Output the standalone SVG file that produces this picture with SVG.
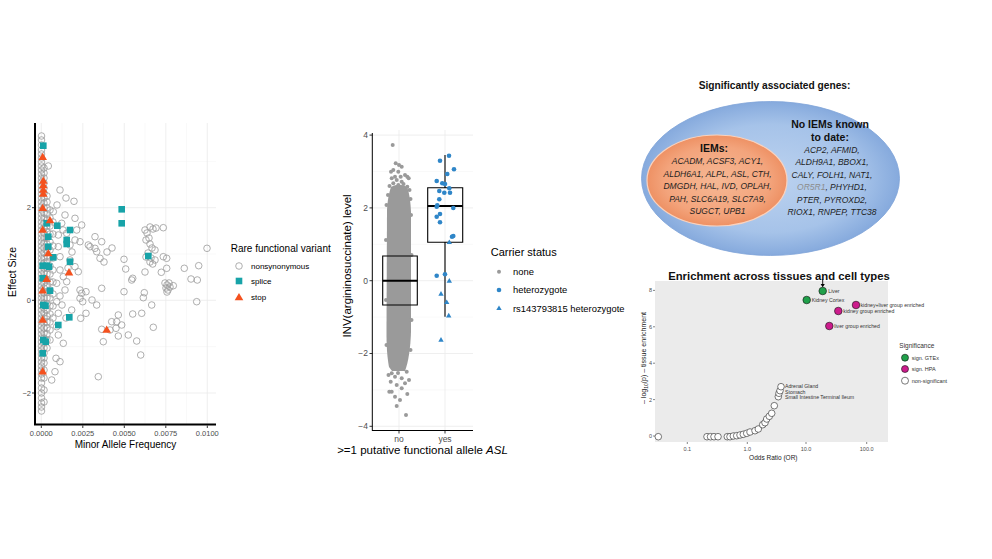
<svg xmlns="http://www.w3.org/2000/svg" xmlns:xlink="http://www.w3.org/1999/xlink" width="992" height="559" viewBox="0 0 992 559">
<style>
text{font-family:"Liberation Sans",Arial,sans-serif;}
.grid{stroke:#ebebeb;stroke-width:0.8;fill:none}
.gridm{stroke:#f2f2f2;stroke-width:0.5;fill:none}
.axis{stroke:#000;fill:none}
.tick{font-size:7.5px;fill:#4d4d4d}
.tickm{font-size:8.5px;fill:#4d4d4d}
.nons use{fill:none;stroke:#9a9a9a;stroke-width:0.8}
.spl use{fill:#17a3a8}
.stp use{fill:#f4511e}
.gdot{fill:#9a9a9a}
.bdot use{fill:#2f86c8}
.vi{font-size:8.5px;font-style:italic;fill:#1e1e1e;text-anchor:middle}
.vb{font-size:10.5px;font-weight:bold;fill:#111;text-anchor:middle}
.elab{font-size:5.2px;fill:#333}
.etick{font-size:5.5px;fill:#4d4d4d}
.ns{fill:#fff;stroke:#222;stroke-width:0.6}
</style>
<defs>
<circle id="o" r="3.3"/>
<rect id="sq" x="-3.3" y="-3.3" width="6.6" height="6.6"/>
<path id="tri" d="M0,-4.6 L4.3,2.8 L-4.3,2.8Z"/>
<circle id="bd" r="2.3"/>
<path id="btri" d="M0,-2.9 L2.7,1.8 L-2.7,1.8Z"/>
<radialGradient id="gBlue" cx="0.5" cy="0.5" r="0.5">
<stop offset="0" stop-color="#bcd2ef"/><stop offset="0.7" stop-color="#a6c3e9"/><stop offset="1" stop-color="#86aadd"/>
</radialGradient>
<radialGradient id="gOr" cx="0.5" cy="0.5" r="0.5">
<stop offset="0" stop-color="#f6b894"/><stop offset="0.75" stop-color="#f3a47c"/><stop offset="1" stop-color="#ee9164"/>
</radialGradient>
</defs>
<rect width="992" height="559" fill="#fff"/>

<g id="panel-variants">
<g class="gridm">
<path d="M62,123V424M103.5,123V424M145,123V424M186.5,123V424M35,161.4H216M35,254H216M35,346.6H216"/>
</g>
<g class="grid">
<path d="M41.3,123V424M82.8,123V424M124.3,123V424M165.8,123V424M207.3,123V424M35,207.7H216M35,300.3H216M35,393H216"/>
</g>
<g class="nons">
<use href="#o" x="41.5" y="136"/><use href="#o" x="41.5" y="140"/><use href="#o" x="41.5" y="145"/><use href="#o" x="41.5" y="150"/><use href="#o" x="41.5" y="154"/><use href="#o" x="41.5" y="158"/><use href="#o" x="41.5" y="162"/><use href="#o" x="41.5" y="166"/><use href="#o" x="41.5" y="170"/><use href="#o" x="41.5" y="174"/><use href="#o" x="41.5" y="178"/><use href="#o" x="41.5" y="182"/><use href="#o" x="41.5" y="186"/><use href="#o" x="41.5" y="190"/><use href="#o" x="41.5" y="194"/><use href="#o" x="41.5" y="198"/><use href="#o" x="41.5" y="202"/><use href="#o" x="41.5" y="206"/><use href="#o" x="41.5" y="210"/><use href="#o" x="41.5" y="214"/><use href="#o" x="41.5" y="218"/><use href="#o" x="41.5" y="222"/><use href="#o" x="41.5" y="226"/><use href="#o" x="41.5" y="230"/><use href="#o" x="41.5" y="234"/><use href="#o" x="41.5" y="238"/><use href="#o" x="41.5" y="242"/><use href="#o" x="41.5" y="246"/><use href="#o" x="41.5" y="250"/><use href="#o" x="41.5" y="254"/><use href="#o" x="41.5" y="258"/><use href="#o" x="41.5" y="262"/><use href="#o" x="41.5" y="266"/><use href="#o" x="41.5" y="270"/><use href="#o" x="41.5" y="274"/><use href="#o" x="41.5" y="278"/><use href="#o" x="41.5" y="282"/><use href="#o" x="41.5" y="286"/><use href="#o" x="41.5" y="290"/><use href="#o" x="41.5" y="294"/><use href="#o" x="41.5" y="298"/><use href="#o" x="41.5" y="302"/><use href="#o" x="41.5" y="306"/><use href="#o" x="41.5" y="310"/><use href="#o" x="41.5" y="314"/><use href="#o" x="41.5" y="318"/><use href="#o" x="41.5" y="322"/><use href="#o" x="41.5" y="326"/><use href="#o" x="41.5" y="330"/><use href="#o" x="41.5" y="334"/><use href="#o" x="41.5" y="338"/><use href="#o" x="41.5" y="342"/><use href="#o" x="41.5" y="346"/><use href="#o" x="41.5" y="350"/><use href="#o" x="41.5" y="354"/><use href="#o" x="41.5" y="358"/><use href="#o" x="41.5" y="362"/><use href="#o" x="41.5" y="366"/><use href="#o" x="41.5" y="370"/><use href="#o" x="41.5" y="374"/><use href="#o" x="41.5" y="378"/><use href="#o" x="41.5" y="383"/><use href="#o" x="41.5" y="388"/><use href="#o" x="41.5" y="393"/><use href="#o" x="41.5" y="398"/><use href="#o" x="41.5" y="403"/><use href="#o" x="41.5" y="407"/><use href="#o" x="41.5" y="411"/>
<use href="#o" x="44" y="168"/><use href="#o" x="44" y="173"/><use href="#o" x="44" y="178"/><use href="#o" x="44" y="183"/><use href="#o" x="44" y="188"/><use href="#o" x="44" y="193"/><use href="#o" x="44" y="198"/><use href="#o" x="44" y="203"/><use href="#o" x="44" y="208"/><use href="#o" x="44" y="213"/><use href="#o" x="44" y="218"/><use href="#o" x="44" y="223"/><use href="#o" x="44" y="228"/><use href="#o" x="44" y="233"/><use href="#o" x="44" y="238"/><use href="#o" x="44" y="243"/><use href="#o" x="44" y="248"/><use href="#o" x="44" y="253"/><use href="#o" x="44" y="258"/><use href="#o" x="44" y="263"/><use href="#o" x="44" y="268"/><use href="#o" x="44" y="273"/><use href="#o" x="44" y="278"/><use href="#o" x="44" y="283"/><use href="#o" x="44" y="288"/><use href="#o" x="44" y="293"/><use href="#o" x="44" y="298"/><use href="#o" x="44" y="303"/><use href="#o" x="44" y="308"/><use href="#o" x="44" y="313"/><use href="#o" x="44" y="318"/><use href="#o" x="44" y="323"/><use href="#o" x="44" y="328"/><use href="#o" x="44" y="333"/><use href="#o" x="44" y="338"/><use href="#o" x="44" y="343"/><use href="#o" x="44" y="348"/><use href="#o" x="44" y="353"/><use href="#o" x="44" y="358"/><use href="#o" x="44" y="363"/><use href="#o" x="44" y="370"/><use href="#o" x="44" y="378"/><use href="#o" x="44" y="390"/><use href="#o" x="44" y="402"/>
<use href="#o" x="47" y="196"/><use href="#o" x="47" y="202"/><use href="#o" x="47" y="208"/><use href="#o" x="47" y="214"/><use href="#o" x="47" y="220"/><use href="#o" x="47" y="226"/><use href="#o" x="47" y="232"/><use href="#o" x="47" y="238"/><use href="#o" x="47" y="244"/><use href="#o" x="47" y="250"/><use href="#o" x="47" y="256"/><use href="#o" x="47" y="262"/><use href="#o" x="47" y="268"/><use href="#o" x="47" y="274"/><use href="#o" x="47" y="280"/><use href="#o" x="47" y="286"/><use href="#o" x="47" y="292"/><use href="#o" x="47" y="298"/><use href="#o" x="47" y="304"/><use href="#o" x="47" y="310"/><use href="#o" x="47" y="316"/><use href="#o" x="47" y="322"/><use href="#o" x="47" y="328"/><use href="#o" x="47" y="334"/><use href="#o" x="47" y="340"/><use href="#o" x="47" y="348"/>
<use href="#o" x="50" y="210"/><use href="#o" x="50" y="218"/><use href="#o" x="50" y="226"/><use href="#o" x="50" y="234"/><use href="#o" x="50" y="242"/><use href="#o" x="50" y="250"/><use href="#o" x="50" y="258"/><use href="#o" x="50" y="266"/><use href="#o" x="50" y="274"/><use href="#o" x="50" y="282"/><use href="#o" x="50" y="290"/><use href="#o" x="50" y="298"/><use href="#o" x="50" y="306"/><use href="#o" x="50" y="314"/><use href="#o" x="50" y="322"/><use href="#o" x="50" y="330"/><use href="#o" x="50" y="340"/>
<use href="#o" x="53" y="222"/><use href="#o" x="53" y="234"/><use href="#o" x="53" y="246"/><use href="#o" x="53" y="258"/><use href="#o" x="53" y="270"/><use href="#o" x="53" y="282"/><use href="#o" x="53" y="294"/><use href="#o" x="53" y="306"/><use href="#o" x="53" y="318"/>
<use href="#o" x="48.3" y="166"/><use href="#o" x="60" y="190"/><use href="#o" x="74" y="201.3"/><use href="#o" x="66" y="198"/><use href="#o" x="57" y="205"/><use href="#o" x="53.3" y="211.7"/><use href="#o" x="65" y="215"/><use href="#o" x="75" y="218.3"/><use href="#o" x="81.7" y="225"/><use href="#o" x="61.7" y="223.3"/><use href="#o" x="58.3" y="235"/><use href="#o" x="66.7" y="233.3"/><use href="#o" x="76.7" y="230"/><use href="#o" x="63" y="230"/><use href="#o" x="75" y="240"/><use href="#o" x="58.3" y="246.7"/><use href="#o" x="70" y="245"/><use href="#o" x="80" y="241.7"/><use href="#o" x="72" y="252"/><use href="#o" x="60" y="256.7"/><use href="#o" x="70" y="260"/><use href="#o" x="75" y="266.7"/><use href="#o" x="68" y="268"/><use href="#o" x="60" y="270"/><use href="#o" x="78.3" y="271.7"/><use href="#o" x="63.3" y="276.7"/><use href="#o" x="56.7" y="283.3"/><use href="#o" x="66.7" y="281.7"/><use href="#o" x="65" y="290"/><use href="#o" x="80" y="290"/><use href="#o" x="81.7" y="293.3"/><use href="#o" x="60" y="296"/><use href="#o" x="80" y="298.3"/><use href="#o" x="56.7" y="301.7"/><use href="#o" x="62" y="305"/><use href="#o" x="71.7" y="310"/><use href="#o" x="58.3" y="313.3"/><use href="#o" x="66" y="318"/><use href="#o" x="56.7" y="326.7"/><use href="#o" x="58.3" y="335"/><use href="#o" x="63.3" y="343.3"/><use href="#o" x="56" y="358.3"/><use href="#o" x="60" y="361.7"/><use href="#o" x="55" y="371.7"/><use href="#o" x="51.7" y="380"/><use href="#o" x="80.7" y="318.3"/><use href="#o" x="86" y="313.3"/><use href="#o" x="82.7" y="301.7"/>
<use href="#o" x="88.3" y="245"/><use href="#o" x="90" y="246.7"/><use href="#o" x="95" y="236.7"/><use href="#o" x="95" y="248.3"/><use href="#o" x="96.7" y="251.7"/><use href="#o" x="101.7" y="241.7"/><use href="#o" x="100" y="258.3"/><use href="#o" x="104" y="262"/><use href="#o" x="107" y="252"/><use href="#o" x="112" y="248"/><use href="#o" x="86" y="291.7"/><use href="#o" x="92" y="300"/><use href="#o" x="101.7" y="288.3"/><use href="#o" x="96.7" y="305"/><use href="#o" x="111.7" y="321.7"/><use href="#o" x="110" y="330"/><use href="#o" x="116" y="328.3"/><use href="#o" x="118.3" y="315"/><use href="#o" x="116.7" y="321.7"/><use href="#o" x="121.7" y="325"/><use href="#o" x="101.7" y="329.3"/><use href="#o" x="103.3" y="341.7"/><use href="#o" x="118.3" y="336"/><use href="#o" x="98.3" y="376.7"/>
<use href="#o" x="124" y="259.3"/><use href="#o" x="125.7" y="269"/><use href="#o" x="124" y="291.7"/><use href="#o" x="128.3" y="335"/><use href="#o" x="132.7" y="314"/><use href="#o" x="136.7" y="341"/><use href="#o" x="140.7" y="355"/><use href="#o" x="141.7" y="313.3"/><use href="#o" x="143.3" y="297.7"/><use href="#o" x="144.3" y="292.7"/><use href="#o" x="153.3" y="327.3"/><use href="#o" x="151.7" y="305"/><use href="#o" x="131.7" y="280"/><use href="#o" x="132.7" y="278.3"/>
<use href="#o" x="145" y="230"/><use href="#o" x="147" y="233"/><use href="#o" x="150" y="227"/><use href="#o" x="153" y="229"/><use href="#o" x="156" y="228"/><use href="#o" x="146" y="240"/><use href="#o" x="150" y="244"/><use href="#o" x="152" y="248"/><use href="#o" x="148" y="253"/><use href="#o" x="146" y="257"/><use href="#o" x="151" y="258"/><use href="#o" x="155" y="250"/><use href="#o" x="149" y="238"/><use href="#o" x="163.3" y="227.7"/><use href="#o" x="166.7" y="258.3"/><use href="#o" x="166.7" y="268.3"/>
<use href="#o" x="150" y="262"/><use href="#o" x="152.7" y="264"/><use href="#o" x="155" y="260"/><use href="#o" x="145" y="272"/><use href="#o" x="161.3" y="272.3"/><use href="#o" x="163.3" y="256.7"/>
<use href="#o" x="165" y="283"/><use href="#o" x="167" y="285"/><use href="#o" x="169" y="283"/><use href="#o" x="166" y="288"/><use href="#o" x="168" y="290"/><use href="#o" x="170" y="287"/><use href="#o" x="167" y="292"/><use href="#o" x="173.3" y="285.7"/>
<use href="#o" x="184.3" y="268.3"/><use href="#o" x="191" y="279"/><use href="#o" x="197.3" y="280"/><use href="#o" x="198.7" y="265.7"/><use href="#o" x="207" y="248.3"/><use href="#o" x="196.7" y="301.7"/>
</g>
<g class="spl">
<use href="#sq" x="43.3" y="145.7"/><use href="#sq" x="46.7" y="223.3"/><use href="#sq" x="57.3" y="225.7"/><use href="#sq" x="70" y="230"/><use href="#sq" x="48.3" y="236.7"/><use href="#sq" x="66.7" y="240"/><use href="#sq" x="66.7" y="244"/><use href="#sq" x="48.3" y="246.7"/><use href="#sq" x="70" y="261.7"/><use href="#sq" x="53.3" y="257.3"/><use href="#sq" x="42.7" y="265.7"/><use href="#sq" x="46.7" y="265.7"/><use href="#sq" x="49" y="266.7"/><use href="#sq" x="42.7" y="278.3"/><use href="#sq" x="50" y="290.7"/><use href="#sq" x="43.3" y="305"/><use href="#sq" x="45.5" y="305.7"/><use href="#sq" x="58.3" y="325"/><use href="#sq" x="69.3" y="317.3"/><use href="#sq" x="43.3" y="340"/><use href="#sq" x="45.7" y="341.7"/><use href="#sq" x="42.7" y="353.3"/><use href="#sq" x="121.7" y="209.3"/><use href="#sq" x="121.7" y="223.3"/><use href="#sq" x="148.3" y="256"/>
</g>
<g class="stp">
<use href="#tri" x="42.7" y="157.3"/><use href="#tri" x="43.3" y="181"/><use href="#tri" x="43.3" y="185.5"/><use href="#tri" x="43.3" y="190"/><use href="#tri" x="43.3" y="194"/><use href="#tri" x="42.7" y="208.3"/><use href="#tri" x="50" y="220.5"/><use href="#tri" x="42.7" y="230"/><use href="#tri" x="48.3" y="253.5"/><use href="#tri" x="46.7" y="279.3"/><use href="#tri" x="42.7" y="290.7"/><use href="#tri" x="42.7" y="320"/><use href="#tri" x="42.7" y="371.7"/><use href="#tri" x="69" y="272.7"/><use href="#tri" x="106.7" y="330"/>
</g>
<path class="axis" stroke-width="2" d="M35,123V425.5M34,424.5H216"/>
<path class="axis" stroke-width="0.8" stroke="#333" d="M32,207.7H35M32,300.3H35M32,393H35M41.3,425.5V428M82.8,425.5V428M124.3,425.5V428M165.8,425.5V428M207.3,425.5V428"/>
<g class="tick" text-anchor="end">
<text x="31" y="210.4">2</text><text x="31" y="303">0</text><text x="31" y="395.7">−2</text>
</g>
<g class="tick" text-anchor="middle">
<text x="41.3" y="436">0.0000</text><text x="82.8" y="436">0.0025</text><text x="124.3" y="436">0.0050</text><text x="165.8" y="436">0.0075</text><text x="207.3" y="436">0.0100</text>
</g>
<text x="125.5" y="447.5" font-size="10" text-anchor="middle">Minor Allele Frequency</text>
<text transform="translate(15.5,272) rotate(-90)" font-size="10.5" text-anchor="middle">Effect Size</text>
<g id="legend-variants">
<text x="230.7" y="251.5" font-size="10">Rare functional variant</text>
<g class="nons"><use href="#o" x="239" y="266"/></g>
<g class="spl"><use href="#sq" x="239" y="281"/></g>
<g class="stp"><use href="#tri" x="239" y="297.5"/></g>
<text x="251" y="268.8" font-size="8">nonsynonymous</text>
<text x="251" y="283.8" font-size="8">splice</text>
<text x="251" y="299.8" font-size="8">stop</text>
</g>
</g>

<g id="panel-asl">
<g class="gridm"><path d="M372,389.9H473M372,317.1H473M372,244.3H473M372,171.5H473"/></g>
<g class="grid"><path d="M399,130V430M445,130V430M372,426.3H473M372,353.5H473M372,280.7H473M372,207.9H473M372,135.1H473"/></g>
<path class="gdot" d="M391,187 C389,193 387.5,200 387,210 L386.5,332 C386.5,346 387,356 389,367 L392,371 L405,371 C408.5,362 410.5,347 411,332 L411,212 C410.5,200 409,192 407,187 C402,184 396,184 391,187Z"/>
<g class="gdot">
<circle cx="392.7" cy="145" r="2"/><circle cx="395.7" cy="163.3" r="2"/><circle cx="399" cy="165" r="2"/><circle cx="401.7" cy="166.7" r="2"/><circle cx="393.3" cy="170" r="2"/><circle cx="391" cy="171.7" r="2"/><circle cx="405" cy="175" r="2"/><circle cx="407.3" cy="176.7" r="2"/><circle cx="408.7" cy="178.3" r="2"/><circle cx="398.3" cy="171.7" r="2"/><circle cx="400.7" cy="176.7" r="2"/><circle cx="395" cy="176.7" r="2"/><circle cx="391.7" cy="178.3" r="2"/><circle cx="396.7" cy="180" r="2"/><circle cx="401.7" cy="181.7" r="2"/><circle cx="393.3" cy="183.3" r="2"/><circle cx="398.3" cy="185" r="2"/><circle cx="407.3" cy="186.7" r="2"/><circle cx="389.5" cy="186" r="2"/><circle cx="403.5" cy="184" r="2"/><circle cx="409.5" cy="190" r="2"/><circle cx="388" cy="195" r="2"/><circle cx="410.5" cy="199" r="2"/><circle cx="386.5" cy="205" r="2"/><circle cx="411" cy="215" r="2"/><circle cx="386" cy="240" r="2"/><circle cx="411.5" cy="255" r="2"/><circle cx="386" cy="300" r="2"/><circle cx="411.5" cy="320" r="2"/><circle cx="386.5" cy="345" r="2"/><circle cx="410.5" cy="350" r="2"/>
<circle cx="391.7" cy="373.3" r="2"/><circle cx="406.7" cy="371.7" r="2"/><circle cx="395" cy="376.7" r="2"/><circle cx="401.7" cy="378.3" r="2"/><circle cx="390.7" cy="381.7" r="2"/><circle cx="405" cy="383.3" r="2"/><circle cx="396.7" cy="385" r="2"/><circle cx="401.7" cy="388.3" r="2"/><circle cx="391.7" cy="391.7" r="2"/><circle cx="407.3" cy="394" r="2"/><circle cx="395" cy="396.7" r="2"/><circle cx="400" cy="400" r="2"/><circle cx="396.7" cy="406" r="2"/><circle cx="389.3" cy="391.7" r="2"/><circle cx="406" cy="415" r="2"/><circle cx="409" cy="380" r="2"/><circle cx="388.5" cy="375" r="2"/><circle cx="398" cy="373" r="2"/>
</g>
<path fill="none" stroke="#000" stroke-width="1.1" d="M382.7,256H417.3V305H382.7Z"/>
<path stroke="#000" stroke-width="2" d="M382.7,280.7H417.3"/>
<path fill="none" stroke="#000" stroke-width="1.1" d="M445,155V187.7M445,242.3V316.7M427.7,187.7H462.7V242.3H427.7Z"/>
<path stroke="#000" stroke-width="2" d="M427.7,206H462.7"/>
<g class="bdot">
<use href="#bd" x="449" y="155.7"/><use href="#bd" x="440" y="160.7"/><use href="#bd" x="454" y="169.3"/><use href="#bd" x="447.3" y="174"/><use href="#bd" x="436.7" y="181"/><use href="#bd" x="442.3" y="183.3"/><use href="#bd" x="445" y="184"/><use href="#bd" x="449.3" y="188.3"/><use href="#bd" x="439.3" y="191"/><use href="#bd" x="444.3" y="192.7"/><use href="#bd" x="450" y="192.7"/><use href="#bd" x="439.3" y="199.3"/><use href="#bd" x="437.3" y="205.3"/><use href="#bd" x="436.7" y="206.7"/><use href="#bd" x="453.3" y="208"/><use href="#bd" x="436.7" y="216.7"/><use href="#bd" x="440" y="214"/><use href="#bd" x="440" y="222.3"/><use href="#bd" x="453.3" y="236"/><use href="#bd" x="452" y="236.7"/><use href="#bd" x="436.7" y="275.7"/><use href="#bd" x="445" y="274.3"/>
<use href="#btri" x="449.3" y="242.3"/><use href="#btri" x="449.3" y="281"/><use href="#btri" x="441" y="294"/><use href="#btri" x="446.7" y="302.3"/><use href="#btri" x="448.7" y="315.7"/><use href="#btri" x="441" y="340"/>
</g>
<path class="axis" stroke-width="1" d="M372.3,133V430.8M372,430.5H473"/>
<path class="axis" stroke-width="0.8" stroke="#333" d="M369.5,135.1H372.3M369.5,207.9H372.3M369.5,280.7H372.3M369.5,353.5H372.3M369.5,426.3H372.3M399,430.5V433.5M445,430.5V433.5"/>
<g class="tickm" text-anchor="end">
<text x="368" y="138">4</text><text x="368" y="210.8">2</text><text x="368" y="283.6">0</text><text x="368" y="356.4">−2</text><text x="368" y="429.2">−4</text>
</g>
<g class="tickm" text-anchor="middle">
<text x="399" y="442">no</text><text x="445" y="442">yes</text>
</g>
<text x="422.5" y="453.5" font-size="11.5" text-anchor="middle">&gt;=1 putative functional allele <tspan font-style="italic">ASL</tspan></text>
<text transform="translate(350.5,266) rotate(-90)" font-size="11.5" text-anchor="middle">INV(argininosuccinate) level</text>
<g id="legend-carrier">
<text x="490.7" y="255.5" font-size="11">Carrier status</text>
<circle cx="499" cy="271.7" r="2" fill="#9a9a9a"/>
<g class="bdot"><use href="#bd" x="499" y="290"/><use href="#btri" x="499" y="308.3"/></g>
<text x="513" y="275" font-size="9.4">none</text>
<text x="513" y="293.3" font-size="9.4">heterozygote</text>
<text x="513" y="311.6" font-size="9.4">rs143793815 heterozygote</text>
</g>
</g>

<g id="panel-genes">
<text x="774.5" y="89" font-size="10.2" font-weight="bold" text-anchor="middle" fill="#111">Significantly associated genes:</text>
<g id="node-all">
<ellipse cx="770.5" cy="178.5" rx="129" ry="77" fill="url(#gBlue)" stroke="#7fa3d8" stroke-width="0.8"/>
<text class="vb" x="830" y="127.5">No IEMs known</text>
<text class="vb" x="830" y="141">to date:</text>
<text class="vi" x="832" y="153.2">ACP2, AFMID,</text>
<text class="vi" x="832" y="165.2">ALDH9A1, BBOX1,</text>
<text class="vi" x="832" y="177.5">CALY, FOLH1, NAT1,</text>
<text class="vi" x="832" y="190"><tspan fill="#8c8c8c">OR5R1</tspan>, PHYHD1,</text>
<text class="vi" x="832" y="202.5">PTER, PYROXD2,</text>
<text class="vi" x="832" y="215">RIOX1, RNPEP, TTC38</text>
</g>
<g id="node-iems">
<ellipse cx="717" cy="180.5" rx="70" ry="45.5" fill="url(#gOr)" stroke="#fad2bd" stroke-width="1.2"/>
<text class="vb" x="714" y="152.3">IEMs:</text>
<text class="vi" x="717.5" y="164">ACADM, ACSF3, ACY1,</text>
<text class="vi" x="717.5" y="176.5">ALDH6A1, ALPL, ASL, CTH,</text>
<text class="vi" x="717.5" y="189">DMGDH, HAL, IVD, OPLAH,</text>
<text class="vi" x="717.5" y="201.5">PAH, SLC6A19, SLC7A9,</text>
<text class="vi" x="717.5" y="213.5">SUGCT, UPB1</text>
</g>
</g>

<g id="panel-enrichment">
<rect x="655" y="281" width="233" height="161" fill="#ebebeb"/>
<text x="779" y="279.5" font-size="11.3" font-weight="bold" text-anchor="middle" fill="#111">Enrichment across tissues and cell types</text>
<path stroke="#333" stroke-width="0.6" d="M653,290.4H655M653,326.8H655M653,363.2H655M653,399.6H655M653,436H655M687.3,442V444M747.3,442V444M806,442V444M866.7,442V444"/>
<g class="etick" text-anchor="end">
<text x="652" y="292.4">8</text><text x="652" y="328.8">6</text><text x="652" y="365.2">4</text><text x="652" y="401.6">2</text><text x="652" y="438">0</text>
</g>
<g class="etick" text-anchor="middle">
<text x="687.3" y="451">0.1</text><text x="747.3" y="451">1.0</text><text x="806" y="451">10.0</text><text x="866.7" y="451">100.0</text>
</g>
<text x="773.3" y="459.5" font-size="6.5" text-anchor="middle" fill="#222">Odds Ratio (OR)</text>
<text transform="translate(646,358) rotate(-90)" font-size="7" text-anchor="middle" fill="#222">– log<tspan font-size="5" dy="1.5">10</tspan><tspan dy="-1.5">(p) – tissue enrichment</tspan></text>
<g class="ns">
<circle cx="658.3" cy="436.7" r="3.3"/>
<circle cx="707" cy="436.7" r="3.3"/><circle cx="710.5" cy="436.7" r="3.3"/><circle cx="714" cy="436.7" r="3.3"/><circle cx="718" cy="436.7" r="3.3"/>
<circle cx="727.3" cy="436.7" r="3.3"/><circle cx="730" cy="436.7" r="3.3"/><circle cx="733.3" cy="436" r="3.3"/><circle cx="736.7" cy="435.7" r="3.3"/><circle cx="740" cy="435" r="3.3"/><circle cx="743.3" cy="434.3" r="3.3"/><circle cx="746.7" cy="433.3" r="3.3"/><circle cx="750" cy="432" r="3.3"/><circle cx="755" cy="430.7" r="3.3"/><circle cx="758.3" cy="429" r="3.3"/><circle cx="762.7" cy="424.7" r="3.3"/><circle cx="765" cy="422.7" r="3.3"/><circle cx="766.7" cy="419" r="3.3"/><circle cx="769.3" cy="416.3" r="3.3"/><circle cx="771.7" cy="413.3" r="3.3"/><circle cx="774.3" cy="405.7" r="3.3"/>
<circle cx="778.3" cy="396.7" r="3.3"/><circle cx="779" cy="393.3" r="3.3"/><circle cx="780" cy="390.7" r="3.3"/><circle cx="781" cy="386.7" r="3.3"/>
</g>
<g stroke="#111" stroke-width="0.6">
<circle cx="806.7" cy="300" r="3.8" fill="#20a04a"/><circle cx="822.7" cy="291" r="3.8" fill="#20a04a"/>
<circle cx="856" cy="305" r="3.8" fill="#cc1c8c"/><circle cx="838.3" cy="311" r="3.8" fill="#cc1c8c"/><circle cx="829.3" cy="326" r="3.8" fill="#cc1c8c"/>
</g>
<path d="M822.7,279V285" stroke="#000" stroke-width="0.9"/>
<path d="M820.6,284L824.8,284L822.7,287.2Z" fill="#000"/>
<g class="elab">
<text x="828.3" y="293">Liver</text>
<text x="811.7" y="302">Kidney Cortex</text>
<text x="860.5" y="307">kidney+liver group enriched</text>
<text x="843.3" y="313">kidney group enriched</text>
<text x="834.3" y="328">liver group enriched</text>
<text x="785" y="387.5">Adrenal Gland</text>
<text x="785" y="393.5">Stomach</text>
<text x="785" y="399">Small Intestine Terminal Ileum</text>
</g>
<g id="legend-significance">
<text x="899.3" y="348" font-size="6.5" fill="#333">Significance</text>
<circle cx="905" cy="357.7" r="3.5" fill="#20a04a" stroke="#111" stroke-width="0.6"/>
<circle cx="905" cy="369" r="3.5" fill="#cc1c8c" stroke="#111" stroke-width="0.6"/>
<circle cx="905" cy="380.7" r="3.5" class="ns"/>
<g class="elab" font-size="5.5"><text x="911.7" y="359.7" font-size="5.5">sign. GTEx</text><text x="911.7" y="371" font-size="5.5">sign. HPA</text><text x="911.7" y="382.7" font-size="5.5">non-significant</text></g>
</g>
</g>
</svg>
